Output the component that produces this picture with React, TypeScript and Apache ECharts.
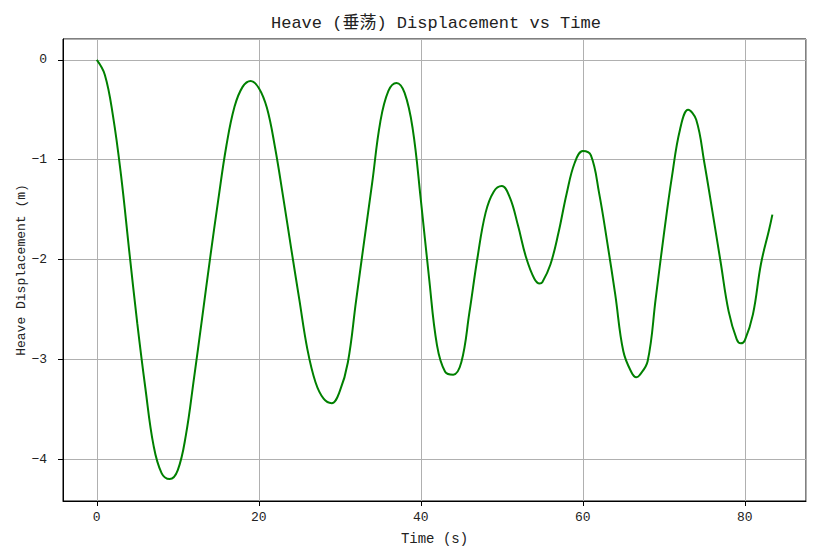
import React, { useEffect, useRef } from "react";
import * as echarts from "echarts";

const timeValues = [
  0, 1, 2, 3, 4, 5, 6, 7, 8, 9, 10, 11, 12, 13, 14, 15, 16, 17, 18, 19,
  20, 21, 22, 23, 24, 25, 26, 27, 28, 29, 30, 31, 32, 33, 34, 35, 36, 37, 38, 39,
  40, 41, 42, 43, 44, 45, 46, 47, 48, 49, 50, 51, 52, 53, 54, 54.67, 55, 56, 57, 58, 59,
  60, 61, 62, 63, 64, 65, 66, 66.6, 67, 68, 69, 70, 71, 72, 73, 74, 75, 76, 77, 78, 79, 79.5,
  80, 81, 82, 83, 83.4,
];
const heaveValues = [
  0, -0.15, -0.56, -1.16, -1.91, -2.64, -3.29, -3.86, -4.14, -4.2, -4.11, -3.76, -3.19, -2.59, -1.98, -1.4, -0.86, -0.47, -0.27, -0.21,
  -0.28, -0.48, -0.875, -1.37, -1.89, -2.4, -2.9, -3.23, -3.395, -3.44, -3.32, -3.03, -2.42, -1.82, -1.23, -0.62, -0.31, -0.23, -0.33, -0.69,
  -1.4, -2.17, -2.86, -3.124, -3.154, -3.03, -2.53, -1.98, -1.53, -1.32, -1.264, -1.38, -1.66, -1.98, -2.19, -2.24, -2.228, -2.05, -1.73, -1.34, -1.03,
  -0.913, -0.957, -1.33, -1.82, -2.35, -2.92, -3.13, -3.18, -3.16, -3.02, -2.39, -1.75, -1.17, -0.696, -0.5, -0.6, -1.03, -1.52, -2.02, -2.52, -2.8, -2.84,
  -2.81, -2.55, -2.04, -1.7, -1.55,
];

const titleText = "Heave (垂荡) Displacement vs Time";
const xAxisName = "Time (s)";
const yAxisName = "Heave Displacement (m)";
const xRange = [-4.17, 87.55];
const yRange = [-4.42, 0.21];

const FONT = "'Liberation Mono', 'DejaVu Sans Mono', 'Noto Sans CJK SC', monospace";
const fmt = (v: number) => (v < 0 ? "\u2212" + Math.abs(v) : String(v));

export default function App() {
  const ref = useRef<HTMLDivElement>(null);
  useEffect(() => {
    document.body.style.margin = "0";
    const chart = echarts.init(ref.current!, null, { renderer: "svg" });
    chart.setOption({
      animation: false,
      backgroundColor: "#ffffff",
      title: {
        text: titleText,
        left: 266,
        top: 10,
        textStyle: { fontFamily: FONT, fontSize: 17, fontWeight: "normal", color: "#222" },
      },
      grid: {
        left: 63,
        top: 39,
        width: 743,
        height: 462,
        show: true,
        borderColor: "#000",
        borderWidth: 1,
        backgroundColor: "#fff",
      },
      xAxis: {
        type: "value",
        min: xRange[0],
        max: xRange[1],
        minInterval: 20,
        maxInterval: 20,
        name: xAxisName,
        nameLocation: "middle",
        nameGap: 31,
        nameTextStyle: { fontFamily: FONT, fontSize: 14, color: "#222" },
        axisLine: { show: true, onZero: false, lineStyle: { color: "#000", width: 1 } },
        axisTick: { show: true, inside: false, length: 5, lineStyle: { color: "#000" } },
        axisLabel: {
          showMinLabel: false,
          showMaxLabel: false,
          margin: 10,
          fontFamily: FONT,
          fontSize: 13,
          color: "#222",
          formatter: fmt,
        },
        splitLine: { show: true, lineStyle: { color: "#b0b0b0", width: 1 } },
      },
      yAxis: {
        type: "value",
        min: yRange[0],
        max: yRange[1],
        minInterval: 1,
        maxInterval: 1,
        name: yAxisName,
        nameLocation: "middle",
        nameGap: 35,
        nameMoveOverlap: false,
        nameTextStyle: { fontFamily: FONT, fontSize: 13, color: "#222" },
        axisLine: { show: true, onZero: false, lineStyle: { color: "#000", width: 1 } },
        axisTick: { show: true, inside: false, length: 5, lineStyle: { color: "#000" } },
        axisLabel: {
          showMinLabel: false,
          showMaxLabel: false,
          margin: 16,
          fontFamily: FONT,
          fontSize: 13,
          color: "#222",
          formatter: fmt,
        },
        splitLine: { show: true, lineStyle: { color: "#b0b0b0", width: 1 } },
      },
      series: [
        {
          type: "line",
          data: timeValues.map((t, i) => [t, heaveValues[i]]),
          showSymbol: false,
          smooth: 0.4,
          lineStyle: { color: "#008000", width: 2 },
          itemStyle: { color: "#008000" },
        },
      ],
    });
    return () => chart.dispose();
  }, []);
  return <div ref={ref} style={{ width: 817, height: 558 }} />;
}
